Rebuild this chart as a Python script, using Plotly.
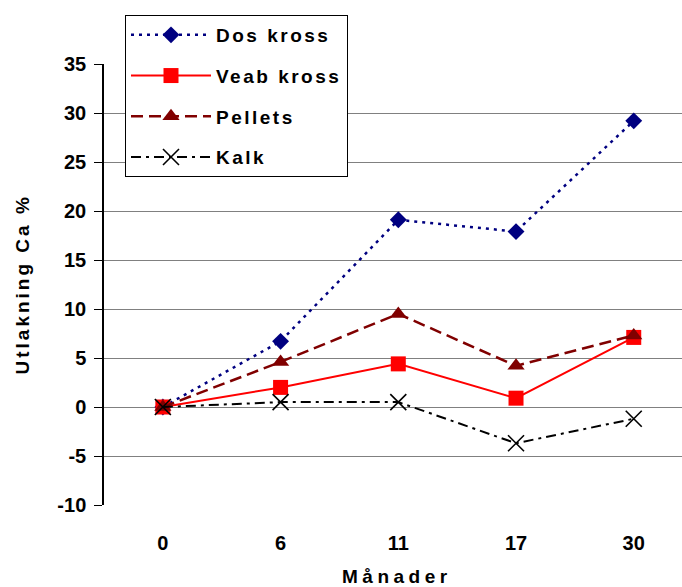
import plotly.graph_objects as go

months = ["0", "6", "11", "17", "30"]
dos_kross = [0, 6.7, 19.1, 17.9, 29.2]
veab_kross = [0, 2.0, 4.4, 0.9, 7.1]
pellets = [0, 4.6, 9.5, 4.2, 7.3]
kalk = [0, 0.5, 0.5, -3.7, -1.2]
y_ticks = [-10, -5, 0, 5, 10, 15, 20, 25, 30, 35]
y_tick_labels = ["-10", "-5", "0", "5", "10", "15", "20", "25", "30", "35"]

FONT = "Liberation Sans, Arial, sans-serif"

def spaced(t, sp=2.5):
    return f'<span style="letter-spacing:{sp}px">{t}</span>'

fig = go.Figure()
fig.add_trace(go.Scatter(
    x=months, y=dos_kross, name=spaced("Dos kross"), legendgroup="a",
    mode="lines+markers",
    line=dict(color="#000080", width=2.5, dash="3px,5px"),
    marker=dict(symbol="diamond", size=13, color="#000080")))
fig.add_trace(go.Scatter(
    x=months, y=veab_kross, name=spaced("Veab kross"), legendgroup="b",
    mode="lines+markers",
    line=dict(color="#FF0000", width=2),
    marker=dict(symbol="square", size=15, color="#FF0000")))
fig.add_trace(go.Scatter(
    x=months, y=pellets, name=spaced("Pellets"), legendgroup="c",
    mode="lines+markers",
    line=dict(color="#800000", width=2.5, dash="12px,6px"),
    marker=dict(symbol="triangle-up", size=15, color="#800000")))
fig.add_trace(go.Scatter(
    x=months, y=kalk, name=spaced("Kalk"), legendgroup="d",
    mode="lines+markers",
    line=dict(color="#000000", width=2, dash="10px,5px,3px,5px"),
    marker=dict(symbol="x-thin", size=16, color="#000000",
                line=dict(color="#000000", width=1.6))))

fig.update_layout(
    width=682, height=587,
    margin=dict(l=104, r=0, t=64, b=82),
    paper_bgcolor="white", plot_bgcolor="white",
    font=dict(family=FONT, size=19, color="black", weight="bold"),
    showlegend=True,
    legend=dict(
        x=(125 - 104) / 578, y=(505 - 15) / 441, xanchor="left", yanchor="top",
        bgcolor="white", bordercolor="black", borderwidth=1,
        font=dict(family=FONT, size=19, color="black", weight="bold"),
        itemwidth=80, tracegroupgap=13, traceorder="grouped",
    ),
    xaxis=dict(
        type="category", categoryorder="array", categoryarray=months,
        range=[-0.5, 4.41],
        showgrid=False, showline=False, zeroline=False,
        ticks="outside", ticklen=20, tickcolor="rgba(0,0,0,0)",
        tickfont=dict(family=FONT, size=20, color="black", weight="bold"),
    ),
    xaxis2=dict(
        overlaying="x", anchor="free", position=10 / 45,
        type="linear", range=[-0.5, 4.41],
        tickvals=[0.5, 1.5, 2.5, 3.5], ticks="outside", ticklen=8,
        tickcolor="#808080", tickwidth=1.5,
        showticklabels=False, showgrid=False, zeroline=False,
        showline=True, linecolor="#808080", linewidth=2,
    ),
    yaxis=dict(
        range=[-10, 35], tickvals=y_ticks, ticktext=y_tick_labels,
        showgrid=True, gridcolor="#808080", gridwidth=1.2,
        zeroline=False,
        showline=True, linecolor="#000000", linewidth=1.5,
        ticks="outside", ticklen=8, tickcolor="#000000", tickwidth=1,
        ticklabelstandoff=4,
        tickfont=dict(family=FONT, size=20, color="black", weight="bold"),
    ),
    annotations=[
        dict(text=spaced("Utlakning Ca %", 3), xref="paper", yref="paper",
             x=(22 - 104) / 578, y=0.5, xanchor="center", yanchor="middle",
             textangle=-90, showarrow=False,
             font=dict(family=FONT, size=19, color="black", weight="bold")),
        dict(text=spaced("Månader", 4.5), xref="paper", yref="paper",
             x=(397 - 104) / 578, y=-(576 - 505) / 441,
             xanchor="center", yanchor="middle", showarrow=False,
             font=dict(family=FONT, size=19, color="black", weight="bold")),
    ],
)

fig.write_html("out.html")
